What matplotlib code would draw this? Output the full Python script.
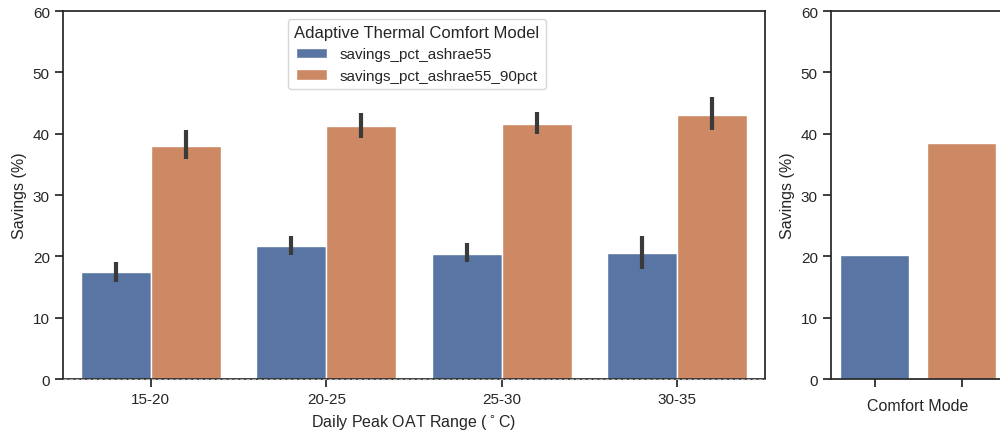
import numpy as np
import matplotlib
matplotlib.use("Agg")
import matplotlib.pyplot as plt
import seaborn as sns

# data
oat_ranges = ["15-20", "20-25", "25-30", "30-35"]
series_names = ["savings_pct_ashrae55", "savings_pct_ashrae55_90pct"]
ashrae55 = [17.4, 21.7, 20.4, 20.5]
ashrae55_lo = [15.8, 20.2, 19.0, 17.9]
ashrae55_hi = [19.1, 23.3, 22.1, 23.3]
ashrae55_90 = [38.0, 41.2, 41.6, 43.0]
ashrae55_90_lo = [35.8, 39.3, 39.9, 40.6]
ashrae55_90_hi = [40.6, 43.3, 43.6, 45.9]
overall = [20.2, 38.5]

sns.set_theme(style="ticks", palette="deep")
plt.rcParams["font.family"] = ["Liberation Sans", "DejaVu Sans"]
# seaborn barplot desaturates its fill colours
colors = sns.color_palette("deep", desat=0.75)[:2]

fig = plt.figure(figsize=(10, 4.35), dpi=100)
ax = fig.add_axes([0.063, 0.1264, 0.702, 0.846])
ax2 = fig.add_axes([0.831, 0.1264, 0.174, 0.846])

#### left panel: savings by OAT range ####
x = np.arange(len(oat_ranges))
w = 0.4
means = [ashrae55, ashrae55_90]
lows = [ashrae55_lo, ashrae55_90_lo]
highs = [ashrae55_hi, ashrae55_90_hi]
for i, name in enumerate(series_names):
    xs = x - w / 2 + i * w
    ax.bar(xs, means[i], width=w, color=colors[i], edgecolor="white",
           linewidth=1, label=name, zorder=2)
    ax.vlines(xs, lows[i], highs[i], color="#3a3a3a", linewidth=3, zorder=3)
ax.axhline(0, color="#aaaaaa", linestyle="--", linewidth=0.8, zorder=4,
           clip_on=False)
ax.set_xlim(-0.5, len(oat_ranges) - 0.5)
ax.set_ylim(0, 60)
ax.set_xticks(x)
ax.set_xticklabels(oat_ranges)
ax.tick_params(labelsize=11, length=6)
ax.set_xlabel("Daily Peak OAT Range ($^\\circ$C)", fontsize=11.5)
ax.set_ylabel("Savings (%)", fontsize=11.5)
leg = ax.legend(title="Adaptive Thermal Comfort Model", loc="upper left",
                bbox_to_anchor=(0.31, 1.0), fontsize=11, title_fontsize=12)

#### right panel: overall savings ####
ax2.bar([0, 1], overall, width=0.8, color=colors, edgecolor="white", linewidth=1)
ax2.set_xlim(-0.5, 1.5)
ax2.set_ylim(0, 60)
ax2.set_xticks([0, 1])
ax2.set_xticklabels(["", ""])
ax2.tick_params(labelsize=11, length=6)
ax2.set_xlabel("Comfort Mode", fontsize=11.5)
ax2.set_ylabel("Savings (%)", fontsize=11.5)

fig.savefig("out.png", dpi=100)
